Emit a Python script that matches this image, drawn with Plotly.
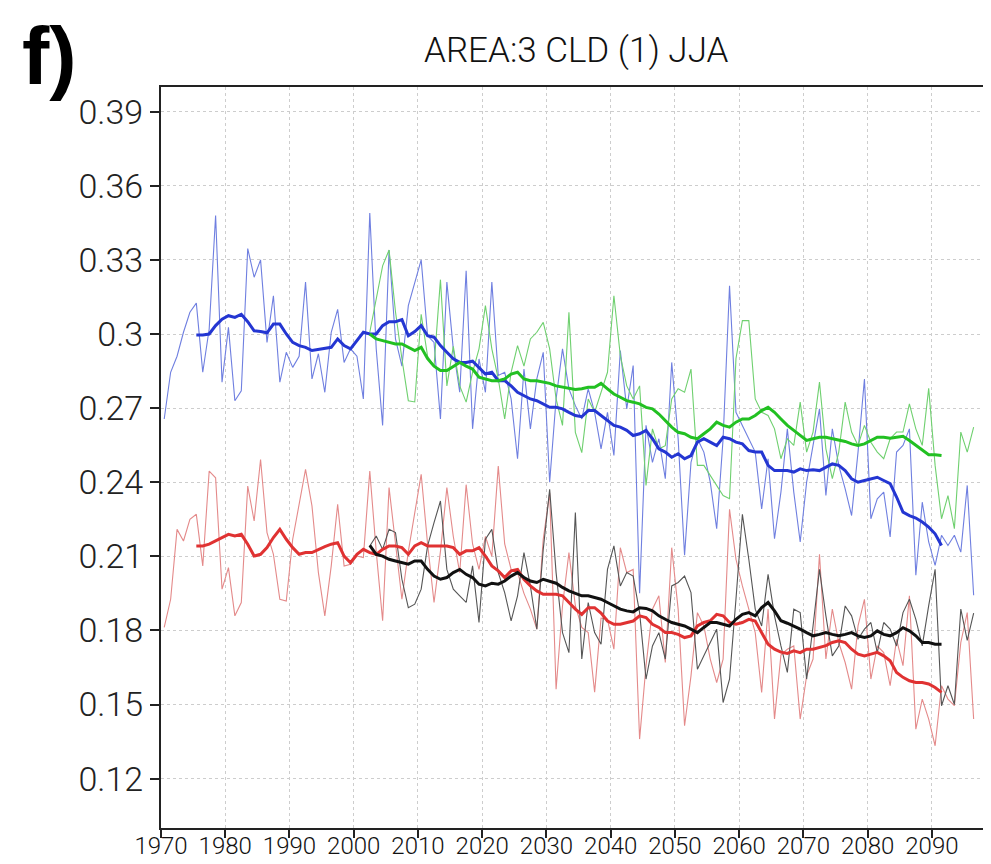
import plotly.graph_objects as go

# ---------------- data ----------------
HIST_START = 1970      # thin blue / thin red start year
FUT_START = 2002       # thin green / thin black start year
SMOOTH_HIST_START = 1975  # thick blue / thick red start year
SMOOTH_FUT_START = 2002   # thick green / thick black start year

blue_thin = [
    0.2656, 0.2845, 0.291, 0.3007, 0.3088, 0.3125, 0.2845, 0.302, 0.348, 0.2805,   # 1970s
    0.3027, 0.273, 0.277, 0.3346, 0.323, 0.330, 0.2966, 0.3155, 0.2805, 0.2926,    # 1980s
    0.2865, 0.291, 0.321, 0.2818, 0.292, 0.2764, 0.3007, 0.310, 0.2885, 0.294,     # 1990s
    0.291, 0.2737, 0.349, 0.294, 0.263, 0.334, 0.298, 0.287, 0.3115, 0.321,        # 2000s
    0.330, 0.2993, 0.2966, 0.2656, 0.321, 0.294, 0.2764, 0.3256, 0.2616, 0.2899,   # 2010s
    0.2764, 0.321, 0.2832, 0.2845, 0.2737, 0.2495, 0.2858, 0.2616, 0.2818, 0.2926, # 2020s
    0.240, 0.2737, 0.294, 0.2778, 0.271, 0.2656, 0.2778, 0.2683, 0.2535, 0.2683,   # 2030s
    0.2508, 0.2933, 0.2697, 0.2872, 0.195, 0.263, 0.248, 0.2576, 0.2414, 0.2885,   # 2040s
    0.2576, 0.2104, 0.248, 0.2576, 0.2522, 0.240, 0.2212, 0.2576, 0.3195, 0.2683,  # 2050s
    0.263, 0.2576, 0.2522, 0.2292, 0.2495, 0.2171, 0.236, 0.2616, 0.236, 0.2158,   # 2060s
    0.240, 0.2549, 0.2697, 0.2346, 0.2616, 0.2468, 0.2373, 0.2265, 0.2522, 0.2818, # 2070s
    0.2252, 0.2333, 0.236, 0.2178, 0.2522, 0.2549, 0.2616, 0.2023, 0.2319, 0.2158, # 2080s
    0.2063, 0.2185, 0.2144, 0.2185, 0.2117, 0.2387, 0.1942,                        # 2090s
]

red_thin = [
    0.1812, 0.1926, 0.2209, 0.2162, 0.225, 0.227, 0.2061, 0.2445, 0.2418, 0.1967,
    0.2054, 0.1859, 0.1913, 0.2384, 0.2243, 0.2492, 0.2196, 0.2108, 0.1926, 0.1919,
    0.2169, 0.2304, 0.2452, 0.2304, 0.2034, 0.1859, 0.2061, 0.231, 0.2061, 0.2068,
    0.2101, 0.2095, 0.2445, 0.212, 0.1839, 0.2378, 0.215, 0.1926, 0.212, 0.228,
    0.2432, 0.215, 0.1913, 0.212, 0.2378, 0.218, 0.2034, 0.239, 0.215, 0.2047,
    0.218, 0.210, 0.2465, 0.215, 0.2047, 0.2034, 0.195, 0.1886, 0.1805, 0.2169,
    0.2357, 0.1562, 0.190, 0.2115, 0.190, 0.1812, 0.1791, 0.155, 0.185, 0.1845,
    0.1724, 0.2135, 0.2034, 0.2047, 0.136, 0.1657, 0.1886, 0.194, 0.167, 0.2135,
    0.1886, 0.1414, 0.1616, 0.1872, 0.1818, 0.1684, 0.1589, 0.1684, 0.229, 0.2088,
    0.198, 0.1886, 0.1791, 0.1549, 0.1886, 0.1441, 0.170, 0.1724, 0.1737, 0.1441,
    0.1616, 0.1684, 0.2108, 0.1684, 0.1886, 0.1751, 0.167, 0.1562, 0.1818, 0.1926,
    0.1603, 0.1737, 0.171, 0.1576, 0.1764, 0.1657, 0.194, 0.140, 0.1522, 0.1441,
    0.1333, 0.1576, 0.1522, 0.1495, 0.1751, 0.1872, 0.1441,
]

green_thin = [
    0.3007, 0.314, 0.3276, 0.334, 0.309, 0.290, 0.273, 0.2725,                    # 2002-2009
    0.308, 0.291, 0.287, 0.322, 0.279, 0.295, 0.279, 0.2724, 0.2845, 0.294,        # 2010s
    0.3115, 0.294, 0.2818, 0.2656, 0.2845, 0.2953, 0.287, 0.298, 0.3007, 0.3047,   # 2020s
    0.294, 0.2737, 0.263, 0.3088, 0.2602, 0.252, 0.2737, 0.2683, 0.2764, 0.2845,   # 2030s
    0.3155, 0.2912, 0.279, 0.2737, 0.279, 0.2387, 0.2616, 0.2535, 0.2548, 0.2737,  # 2040s
    0.2778, 0.2764, 0.2858, 0.2468, 0.2468, 0.2427, 0.2387, 0.2346, 0.2333, 0.290, # 2050s
    0.3054, 0.3054, 0.2737, 0.2683, 0.267, 0.2616, 0.2495, 0.2576, 0.2549, 0.2724, # 2060s
    0.2522, 0.2603, 0.2805, 0.2535, 0.2414, 0.2522, 0.2724, 0.2603, 0.2549, 0.263, # 2070s
    0.2562, 0.2522, 0.2495, 0.2576, 0.2603, 0.2603, 0.2717, 0.2616, 0.2549, 0.278, # 2080s
    0.2468, 0.2252, 0.2346, 0.2212, 0.2603, 0.2522, 0.2623,                        # 2090s
]

black_thin = [
    0.2142, 0.2182, 0.2128, 0.2209, 0.2196, 0.2007, 0.1892, 0.1906,
    0.1967, 0.2142, 0.2236, 0.2324, 0.2047, 0.1967, 0.194, 0.1913, 0.2061, 0.1832,
    0.2169, 0.2209, 0.2034, 0.1953, 0.1839, 0.194, 0.2115, 0.198, 0.1805, 0.2128,
    0.2371, 0.2034, 0.1791, 0.171, 0.2277, 0.1684, 0.1913, 0.1791, 0.1744, 0.2047,
    0.2142, 0.198, 0.2034, 0.202, 0.1872, 0.1603, 0.1737, 0.1791, 0.1684, 0.198,
    0.1994, 0.202, 0.1953, 0.1643, 0.1697, 0.1751, 0.1805, 0.1508, 0.1603, 0.1926,
    0.227, 0.2088, 0.1886, 0.1818, 0.2027, 0.1859, 0.1737, 0.163, 0.1886, 0.1872,
    0.1603, 0.1818, 0.2047, 0.1859, 0.1697, 0.1737, 0.1899, 0.1859, 0.1764, 0.1805,
    0.1832, 0.171, 0.1832, 0.1805, 0.1737, 0.1872, 0.1926, 0.1845, 0.1737, 0.190,
    0.2047, 0.1495, 0.1576, 0.150, 0.1886, 0.176, 0.187,
]

blue_thick = [
    0.2996, 0.2996, 0.300, 0.3034, 0.306,                                          # 1975-1979
    0.3074, 0.3067, 0.308, 0.305, 0.3013, 0.301, 0.3005, 0.304, 0.304, 0.300,      # 1980s
    0.2966, 0.2953, 0.2946, 0.2933, 0.2937, 0.294, 0.2946, 0.298, 0.2953, 0.294,   # 1990s
    0.2973, 0.3007, 0.300, 0.300, 0.3034, 0.305, 0.305, 0.3058, 0.2993, 0.301,     # 2000s
    0.3034, 0.2993, 0.2987, 0.2953, 0.2926, 0.290, 0.2885, 0.2885, 0.289, 0.2865,  # 2010s
    0.2838, 0.2845, 0.2811, 0.2811, 0.279, 0.2764, 0.275, 0.2737, 0.273, 0.2717,   # 2020s
    0.2703, 0.2703, 0.2697, 0.2683, 0.267, 0.2665, 0.269, 0.269, 0.267, 0.265,     # 2030s
    0.263, 0.2623, 0.261, 0.2589, 0.2596, 0.261, 0.2576, 0.2535, 0.2522, 0.2501,   # 2040s
    0.2515, 0.2495, 0.2508, 0.2562, 0.2576, 0.2562, 0.2548, 0.2582, 0.2576, 0.2562,# 2050s
    0.2555, 0.2528, 0.2522, 0.2522, 0.2468, 0.2447, 0.2447, 0.2447, 0.2441, 0.2454,# 2060s
    0.2447, 0.245, 0.2447, 0.2461, 0.2474, 0.2468, 0.2447, 0.2414, 0.240, 0.2407,  # 2070s
    0.2414, 0.242, 0.2407, 0.2394, 0.234, 0.2279, 0.2265, 0.2255, 0.2239, 0.2218,  # 2080s
    0.2191, 0.2144,                                                                # 2090-2091
]

red_thick = [
    0.2142, 0.2142, 0.2149, 0.2162, 0.2176,
    0.2189, 0.2182, 0.2189, 0.2149, 0.2101, 0.2108, 0.2135, 0.2176, 0.2209, 0.2169,
    0.2135, 0.2108, 0.2115, 0.2115, 0.2128, 0.2139, 0.2149, 0.2155, 0.2101, 0.2074,
    0.2108, 0.2128, 0.2115, 0.2108, 0.2128, 0.2142, 0.2142, 0.2135, 0.2108, 0.2142,
    0.2155, 0.2142, 0.2142, 0.2142, 0.2142, 0.2135, 0.2108, 0.2122, 0.2122, 0.2135,
    0.2101, 0.2061, 0.2041, 0.2014, 0.2041, 0.2047, 0.2007, 0.198, 0.196, 0.1946,
    0.1946, 0.1946, 0.194, 0.1913, 0.1886, 0.1865, 0.1892, 0.1892, 0.187, 0.1838,
    0.1825, 0.1825, 0.1832, 0.1838, 0.1859, 0.1852, 0.1825, 0.1812, 0.1791, 0.1791,
    0.1784, 0.1771, 0.1778, 0.1818, 0.1832, 0.1839, 0.1865, 0.1859, 0.1832, 0.1825,
    0.1832, 0.1845, 0.1838, 0.1791, 0.1744, 0.1724, 0.1712, 0.1707, 0.1717, 0.171,
    0.1724, 0.1724, 0.1731, 0.1738, 0.1751, 0.1758, 0.1751, 0.1724, 0.1704, 0.1697,
    0.1704, 0.1711, 0.1697, 0.1677, 0.163, 0.161, 0.1596, 0.1589, 0.1589, 0.1583,
    0.1569, 0.1549,
]

green_thick = [
    0.300, 0.298, 0.2973, 0.2966, 0.296, 0.296, 0.2946, 0.2933,                    # 2002-2009
    0.2946, 0.290, 0.287, 0.2852, 0.2852, 0.287, 0.2885, 0.287, 0.2858, 0.2825,    # 2010s
    0.2818, 0.2811, 0.2811, 0.2818, 0.2838, 0.2845, 0.2818, 0.2811, 0.2811, 0.2805,# 2020s
    0.280, 0.279, 0.2784, 0.2778, 0.2775, 0.2778, 0.2784, 0.2784, 0.280, 0.2778,   # 2030s
    0.2757, 0.2744, 0.273, 0.2724, 0.2717, 0.2703, 0.2697, 0.2676, 0.265, 0.2623,  # 2040s
    0.2602, 0.2596, 0.2582, 0.2576, 0.2596, 0.2616, 0.2643, 0.263, 0.2623, 0.2643, # 2050s
    0.2656, 0.2656, 0.267, 0.269, 0.2703, 0.2683, 0.2656, 0.263, 0.261, 0.2589,    # 2060s
    0.2569, 0.2576, 0.2582, 0.2582, 0.2576, 0.2569, 0.2565, 0.2555, 0.2549, 0.2555,# 2070s
    0.2569, 0.2582, 0.2582, 0.2578, 0.2582, 0.2586, 0.2569, 0.2549, 0.2528, 0.2511,# 2080s
    0.2511, 0.2508,                                                                # 2090-2091
]

black_thick = [
    0.2144, 0.2108, 0.2101, 0.2088, 0.2081, 0.2074, 0.2068, 0.2081,
    0.2081, 0.2047, 0.202, 0.2007, 0.2014, 0.2034, 0.2047, 0.2027, 0.2014, 0.1987,
    0.198, 0.1991, 0.1987, 0.200, 0.202, 0.2034, 0.2014, 0.200, 0.1994, 0.2007,
    0.200, 0.1991, 0.1974, 0.196, 0.195, 0.194, 0.194, 0.1933, 0.1926, 0.1913,
    0.1899, 0.1886, 0.1879, 0.1875, 0.1892, 0.1889, 0.1879, 0.1859, 0.1845, 0.1832,
    0.1825, 0.1818, 0.1805, 0.1791, 0.1812, 0.1832, 0.1832, 0.1825, 0.1818, 0.1845,
    0.1865, 0.1872, 0.1859, 0.1892, 0.1913, 0.1879, 0.1839, 0.1829, 0.1818, 0.1805,
    0.1791, 0.1778, 0.1784, 0.1791, 0.1784, 0.1778, 0.1784, 0.1791, 0.1778, 0.1771,
    0.1778, 0.1798, 0.1784, 0.1778, 0.1791, 0.1811, 0.1798, 0.1778, 0.1751, 0.1751,
    0.1744, 0.1744,
]

x_ticks = [1970, 1980, 1990, 2000, 2010, 2020, 2030, 2040, 2050, 2060, 2070, 2080, 2090]
y_ticks = [0.12, 0.15, 0.18, 0.21, 0.24, 0.27, 0.30, 0.33, 0.36, 0.39]
y_tick_text = ["0.12", "0.15", "0.18", "0.21", "0.24", "0.27", "0.3", "0.33", "0.36", "0.39"]

TITLE = "AREA:3 CLD (1) JJA"
PANEL = "f)"

# ---------------- figure ----------------
MID = 0.5  # seasonal (JJA) values sit mid-year on the time axis


def years(start, vals):
    return [start + i + MID for i in range(len(vals))]


fig = go.Figure()

thin = [
    (blue_thin, HIST_START, "#6f7fe0"),
    (red_thin, HIST_START, "#e48a8a"),
    (green_thin, FUT_START, "#6fd06f"),
    (black_thin, FUT_START, "#555555"),
]
thick = [
    (blue_thick, SMOOTH_HIST_START, "#2436d2"),
    (red_thick, SMOOTH_HIST_START, "#e03232"),
    (green_thick, SMOOTH_FUT_START, "#22c022"),
    (black_thick, SMOOTH_FUT_START, "#111111"),
]
for vals, start, col in thin:
    fig.add_trace(go.Scatter(x=years(start, vals), y=vals, mode="lines",
                             line=dict(color=col, width=1.1), showlegend=False,
                             hoverinfo="skip"))
for vals, start, col in thick:
    fig.add_trace(go.Scatter(x=years(start, vals), y=vals, mode="lines",
                             line=dict(color=col, width=3), showlegend=False,
                             hoverinfo="skip"))

THIN_FONT = "Roboto, Liberation Sans, sans-serif"

# the page body adds an 8px offset, so the figure is 8px smaller than the window
fig.update_layout(
    width=983, height=856,
    margin=dict(l=153, r=0, t=79, b=36, autoexpand=False),
    paper_bgcolor="white", plot_bgcolor="white",
    font=dict(family=THIN_FONT, color="black"),
    showlegend=False,
)
fig.update_xaxes(
    range=[1970, 2099.2], tickvals=x_ticks, ticks="outside", ticklen=8,
    tickwidth=2, tickcolor="#222", showline=True, linecolor="#222", linewidth=2,
    mirror=True, showgrid=True, gridcolor="#cdcdcd", gridwidth=1, griddash="dot",
    zeroline=False, ticklabelstandoff=-13,
    tickfont=dict(size=24, family=THIN_FONT, color="#111", weight=300),
)
fig.update_yaxes(
    range=[0.10, 0.40], tickvals=y_ticks, ticktext=y_tick_text, ticks="outside",
    ticklen=9, tickwidth=2, tickcolor="#222", showline=True, linecolor="#222",
    linewidth=2, mirror=False, showgrid=True, gridcolor="#cdcdcd", gridwidth=1,
    griddash="dot", zeroline=False,
    tickfont=dict(size=34, family=THIN_FONT, color="#222", weight=300),
)

fig.add_annotation(text=TITLE, xref="paper", yref="paper", x=0.5, y=1.0,
                   yshift=37, showarrow=False, xanchor="center", yanchor="middle",
                   font=dict(size=35, family=THIN_FONT, color="#111", weight=300))
fig.add_annotation(text="<b>" + PANEL + "</b>", xref="paper", yref="paper",
                   x=0, y=1, xshift=-141, yshift=79, showarrow=False,
                   xanchor="left", yanchor="top",
                   font=dict(size=82, family="Liberation Sans, Arial, sans-serif",
                             color="black"))

fig.write_html("out.html")
